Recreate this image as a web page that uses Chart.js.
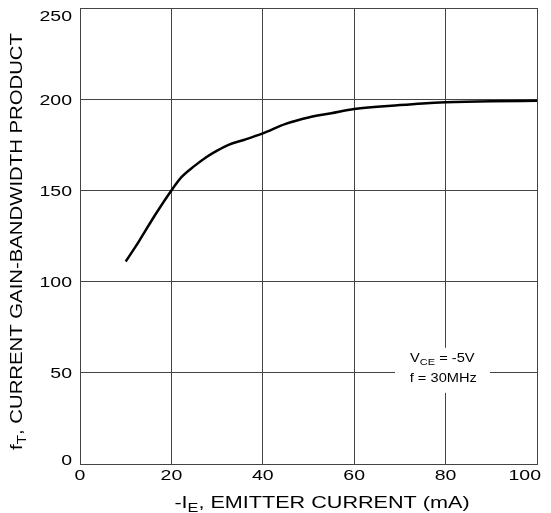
<!DOCTYPE html>
<html>
<head>
<meta charset="utf-8">
<script src="https://cdn.jsdelivr.net/npm/chart.js@4.4.1/dist/chart.umd.min.js"></script>
<style>
  html, body { margin: 0; padding: 0; background: #fff; }
  #wrap { width: 551px; height: 513px; }
</style>
</head>
<body>
<div id="wrap"><canvas id="c" width="551" height="513"></canvas></div>
<script>
// Data
const currentMA = [10, 13, 16.5, 20, 22.3, 25, 27.7, 30, 32.5, 36, 40, 45, 50, 55, 60, 70, 75, 80, 90, 100];
const ftMHz     = [111, 122.5, 136.8, 150, 157.5, 163.3, 168.3, 171.8, 175, 177.8, 181.3, 186.5, 190, 192.3, 194.6, 196.8, 197.7, 198.3, 198.9, 199.1];
const xTicks = [0, 20, 40, 60, 80, 100];
const yTicks = [0, 50, 100, 150, 200, 250];
const xTitle = [{t: '-I'}, {t: 'E', sub: true}, {t: ', EMITTER CURRENT (mA)'}];
const yTitle = [{t: 'f'}, {t: 'T', sub: true}, {t: ', CURRENT GAIN-BANDWIDTH PRODUCT'}];
const noteLine1 = [{t: 'V'}, {t: 'CE', sub: true}, {t: ' = -5V'}];
const noteLine2 = [{t: 'f = 30MHz'}];

const FONT = '"Liberation Sans", Arial, Helvetica, sans-serif';

function richWidth(ctx, parts, size) {
  const subSize = Math.round(size * 0.72);
  let w = 0;
  parts.forEach(p => {
    ctx.font = (p.sub ? subSize : size) + 'px ' + FONT;
    p.w = ctx.measureText(p.t).width;
    w += p.w;
  });
  return w;
}

// draws text parts with a horizontal stretch sx; returns drawn (stretched) width
function drawRich(ctx, parts, x, y, size, align, sx) {
  const subSize = Math.round(size * 0.72);
  const w = richWidth(ctx, parts, size);
  ctx.save();
  ctx.translate(x, y);
  ctx.scale(sx, 1);
  let cx = align === 'center' ? -w / 2 : (align === 'right' ? -w : 0);
  ctx.textAlign = 'left';
  ctx.textBaseline = 'alphabetic';
  parts.forEach(p => {
    ctx.font = (p.sub ? subSize : size) + 'px ' + FONT;
    ctx.fillText(p.t, cx, p.sub ? size * 0.27 : 0);
    cx += p.w;
  });
  ctx.restore();
  return w * sx;
}

const textPlugin = {
  id: 'textPlugin',
  afterDraw(chart) {
    const ctx = chart.ctx;
    const xs = chart.scales.x, ys = chart.scales.y;
    const area = chart.chartArea;
    ctx.save();
    ctx.fillStyle = '#000';
    // y tick labels
    ys.ticks.forEach(t => {
      const py = ys.getPixelForValue(t.value);
      const c = Math.min(Math.max(py, area.top + 7.5), area.bottom - 4);
      drawRich(ctx, [{t: String(t.value)}], area.left - 8, c + 5.4, 15, 'right', 1.3);
    });
    // x tick labels
    xs.ticks.forEach(t => {
      const parts = [{t: String(t.value)}];
      const w = richWidth(ctx, parts, 15) * 1.3;
      const px = Math.min(xs.getPixelForValue(t.value), 541 - w / 2);
      drawRich(ctx, parts, px, area.bottom + 16, 15, 'center', 1.3);
    });
    // x title
    drawRich(ctx, xTitle, 322, 508, 16, 'center', 1.35);
    // y title (rotated)
    ctx.save();
    ctx.translate(22, 241.5);
    ctx.rotate(-Math.PI / 2);
    drawRich(ctx, yTitle, 0, 0, 16, 'center', 1.27);
    ctx.restore();
    // note box
    const nx = xs.getPixelForValue(80);
    const ny = ys.getPixelForValue(50);
    ctx.fillStyle = '#fff';
    ctx.fillRect(nx - 50.6, ny - 25, 95, 45);
    ctx.fillStyle = '#000';
    drawRich(ctx, noteLine1, nx - 3.3, ny - 10.7, 12, 'center', 1.22);
    drawRich(ctx, noteLine2, nx - 2.3, ny + 9.3, 12, 'center', 1.22);
    ctx.restore();
  }
};

new Chart(document.getElementById('c'), {
  type: 'line',
  data: {
    datasets: [{
      data: currentMA.map((x, i) => ({x: x, y: ftMHz[i]})),
      borderColor: '#000',
      borderWidth: 2.5,
      pointRadius: 0,
      cubicInterpolationMode: 'monotone',
      fill: false
    }]
  },
  options: {
    responsive: false,
    animation: false,
    devicePixelRatio: 1,
    layout: { padding: { left: 0, right: 14, top: 8, bottom: 0 } },
    plugins: { legend: { display: false }, tooltip: { enabled: false } },
    scales: {
      x: {
        type: 'linear', min: 0, max: 100,
        afterBuildTicks: s => { s.ticks = xTicks.map(v => ({value: v})); },
        afterFit: s => { s.height = 49; s.paddingLeft = 0; s.paddingRight = 0; },
        grid: { color: '#444', lineWidth: 1, drawTicks: false },
        border: { color: '#444', width: 1 },
        ticks: { display: false }
      },
      y: {
        type: 'linear', min: 0, max: 250,
        afterBuildTicks: s => { s.ticks = yTicks.map(v => ({value: v})); },
        afterFit: s => { s.width = 80; s.paddingTop = 0; s.paddingBottom = 0; },
        grid: { color: '#444', lineWidth: 1, drawTicks: false },
        border: { color: '#444', width: 1 },
        ticks: { display: false }
      }
    }
  },
  plugins: [textPlugin]
});
</script>
</body>
</html>
